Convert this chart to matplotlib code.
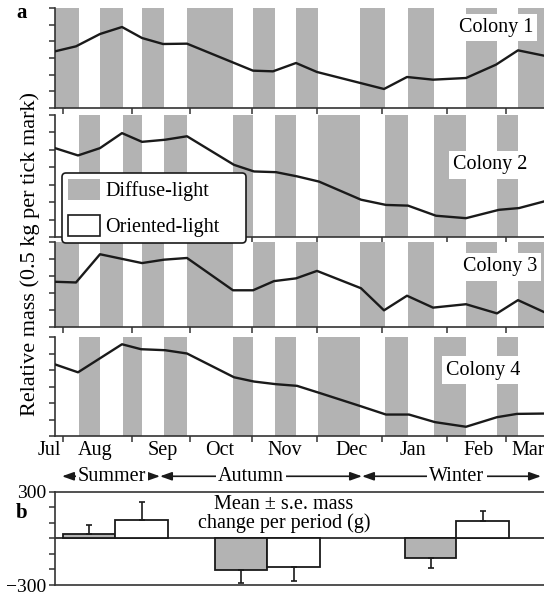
import numpy as np
import matplotlib
matplotlib.use('Agg')
import matplotlib.pyplot as plt
from matplotlib.patches import Patch

plt.rcParams['font.family'] = ['Liberation Serif', 'DejaVu Serif']

W, H = 544, 594
grey = '#b3b3b3'
ink = '#1a1a1a'

# x axis unit: days counted from late July
period_edges = [0, 12, 22.5, 34, 43.5, 54.5, 66, 89, 99, 110, 120.5, 131.5,
                152.5, 165, 176.5, 189.5, 205.5, 221, 231.5, 252.5]
# colonies 1 & 3 diffuse in even periods, 2 & 4 in odd periods
first_diffuse = [0, 1, 0, 1]
ylim_top = [3.0, 3.5, 2.5, 3.0]

c1_day = [0, 10.5, 22.5, 33.5, 43.5, 54, 66, 99, 109, 120.5, 131, 164.5, 176, 189, 205.5, 220.5, 231.5, 244.5]
c1_mass = [1.70, 1.85, 2.22, 2.43, 2.10, 1.92, 1.93, 1.12, 1.10, 1.35, 1.08, 0.57, 0.93, 0.85, 0.90, 1.30, 1.73, 1.57]

c2_day = [0, 11.5, 22.5, 33.5, 43.5, 55, 66, 89.5, 99.5, 110.5, 121, 132, 153, 165.5, 176.5, 190.5, 205.5, 222, 232, 244.5]
c2_mass = [2.55, 2.34, 2.55, 2.98, 2.73, 2.79, 2.89, 2.07, 1.88, 1.86, 1.74, 1.59, 1.07, 0.92, 0.90, 0.61, 0.54, 0.78, 0.83, 1.02]

c3_day = [0, 10.5, 22.5, 43.5, 54.5, 66, 89, 99, 109.5, 120.5, 131, 153, 164.5, 176, 189, 205.5, 221, 231.5, 244.5]
c3_mass = [1.33, 1.31, 2.14, 1.88, 1.98, 2.03, 1.08, 1.08, 1.35, 1.43, 1.65, 1.14, 0.49, 0.92, 0.57, 0.67, 0.40, 0.79, 0.44]

c4_day = [0, 11.5, 33.5, 43, 55, 66, 89.5, 99.5, 110.5, 121, 132.5, 153, 165.5, 177, 190, 205.5, 221, 231, 244.5]
c4_mass = [2.17, 1.93, 2.78, 2.63, 2.60, 2.50, 1.78, 1.65, 1.57, 1.52, 1.30, 0.90, 0.65, 0.65, 0.42, 0.28, 0.57, 0.67, 0.68]

colony_names = ['Colony 1', 'Colony 2', 'Colony 3', 'Colony 4']

month_tick_day = [3.85, 38.35, 67.5, 98.35, 130.85, 163.35, 195.85, 225.5]
month_names = ['Jul', 'Aug', 'Sep', 'Oct', 'Nov', 'Dec', 'Jan', 'Feb', 'Mar']
month_label_day = [-3, 20, 54, 82.5, 115, 148.5, 179, 212, 236.5]

seasons = ['Summer', 'Autumn', 'Winter']
season_start = [3.5, 52.5, 153.5]
season_end = [52.5, 153.5, 243]
season_label_day = [28.5, 98, 201]

# panel b: mean +- s.e. mass change per period (g)
bar_start = [3.9, 30, 80, 106, 175, 200.7]
bar_end = [30, 56.7, 106, 132.7, 200.7, 227.2]
change_mean = [25, 121, -201, -187, -127, 110]
change_se = [64, 112, 89, 89, 64, 65]
change_light = ['diffuse', 'oriented', 'diffuse', 'oriented', 'diffuse', 'oriented']

fig = plt.figure(figsize=(W / 100, H / 100), dpi=100)


def px_axes(top, bottom, left=55, right=560):
    return fig.add_axes([left / W, 1 - bottom / H, (right - left) / W, (bottom - top) / H])


def style_axes(ax):
    for side in ['top', 'right']:
        ax.spines[side].set_visible(False)
    for side in ['left', 'bottom']:
        ax.spines[side].set_linewidth(1.2)
        ax.spines[side].set_color('#333333')
    ax.tick_params(direction='out', length=4, width=1.1, color='#333333',
                   labelleft=False, labelbottom=False)
    ax.set_xlim(0, 252.5)


panel_px = [(8, 108), (115, 237), (242, 327), (337, 436)]
colony_days = [c1_day, c2_day, c3_day, c4_day]
colony_mass = [c1_mass, c2_mass, c3_mass, c4_mass]
label_px = [(496, 27.5), (490, 165), (500, 267), (483, 370)]

axes = []
for k in range(4):
    ax = px_axes(*panel_px[k])
    style_axes(ax)
    for i in range(len(period_edges) - 1):
        if (i - first_diffuse[k]) % 2 == 0:
            ax.axvspan(period_edges[i], period_edges[i + 1], color=grey, lw=0, zorder=0)
    ax.plot(colony_days[k], colony_mass[k], color=ink, lw=1.7,
            solid_joinstyle='round', zorder=3)
    ax.set_ylim(0, ylim_top[k])
    ax.set_yticks(np.arange(0, ylim_top[k] + 0.01, 0.5))
    ax.set_xticks(month_tick_day)
    fig.text(label_px[k][0] / W, 1 - label_px[k][1] / H, colony_names[k],
             ha='center', va='center', fontsize=14.5,
             bbox=dict(boxstyle='square,pad=0.2', fc='white', ec='none'))
    axes.append(ax)

ax4 = axes[-1]
for name, d in zip(month_names, month_label_day):
    ax4.annotate(name, xy=(d, 0), xycoords=('data', 'axes fraction'),
                 xytext=(0, -3.5), textcoords='offset points',
                 ha='center', va='top', fontsize=14.5, annotation_clip=False)

for name, s, e, d in zip(seasons, season_start, season_end, season_label_day):
    ax4.annotate('', xy=(e, -29), xytext=(s, -29), xycoords=('data', 'axes points'),
                 arrowprops=dict(arrowstyle='<|-|>,head_length=0.7,head_width=0.25',
                                 color=ink, lw=1.2, shrinkA=0, shrinkB=0,
                                 mutation_scale=10),
                 annotation_clip=False)
    ax4.annotate(name, xy=(d, -29), xycoords=('data', 'axes points'),
                 ha='center', va='center', fontsize=14.5, annotation_clip=False,
                 bbox=dict(boxstyle='square,pad=0.1', fc='white', ec='none'))

leg = fig.legend([Patch(facecolor=grey, edgecolor='none'),
                  Patch(facecolor='white', edgecolor=ink, linewidth=1.2)],
                 ['Diffuse-light', 'Oriented-light'],
                 loc='upper left',
                 bbox_to_anchor=(62 / W, 1 - 248 / H, 184 / W, 75 / H),
                 mode='expand',
                 fontsize=14.5, handlelength=1.6, handleheight=1.25,
                 handletextpad=0.25, borderpad=0.3, labelspacing=0.65,
                 borderaxespad=0, fancybox=True, framealpha=1, edgecolor=ink)
leg.get_frame().set_linewidth(1.2)

# panel b
axb = px_axes(491.7, 585)
axb.spines['right'].set_visible(False)
for side in ['top', 'bottom', 'left']:
    axb.spines[side].set_linewidth(1.2)
    axb.spines[side].set_color('#333333')
axb.set_xlim(0, 252.5)
axb.set_ylim(-300, 300)
axb.set_xticks([])
axb.set_yticks([-300, 300])
axb.set_yticklabels(['\u2212300', '300'])
axb.set_yticks([-200, -100, 0, 100, 200], minor=True)
axb.tick_params(axis='y', which='both', direction='out', length=4, width=1.1,
                color='#333333', labelsize=14, pad=2)
axb.axhline(0, color=ink, lw=1.2, zorder=1)

centers = [(a + b) / 2 for a, b in zip(bar_start, bar_end)]
widths = [b - a for a, b in zip(bar_start, bar_end)]
colors = [grey if c == 'diffuse' else 'white' for c in change_light]
axb.bar(centers, change_mean, width=widths, color=colors, edgecolor=ink,
        lw=1.3, zorder=2)
lower = [se if m < 0 else 0 for m, se in zip(change_mean, change_se)]
upper = [se if m > 0 else 0 for m, se in zip(change_mean, change_se)]
axb.errorbar(centers, change_mean, yerr=[lower, upper], fmt='none', ecolor=ink,
             elinewidth=1.2, capsize=2.5, capthick=1.2, zorder=3)

fig.text(284 / W, 1 - 514 / H, 'Mean \u00b1 s.e. mass\nchange per period (g)',
         ha='center', va='center', fontsize=14.5, linespacing=0.9)

fig.text(22 / W, 1 - 13 / H, 'a', ha='center', va='center', fontsize=15, fontweight='bold')
fig.text(22 / W, 1 - 513 / H, 'b', ha='center', va='center', fontsize=15, fontweight='bold')
fig.text(30 / W, 1 - 254 / H, 'Relative mass (0.5 kg per tick mark)', rotation=90,
         ha='center', va='center', fontsize=16)

fig.savefig('out.png', dpi=100)
